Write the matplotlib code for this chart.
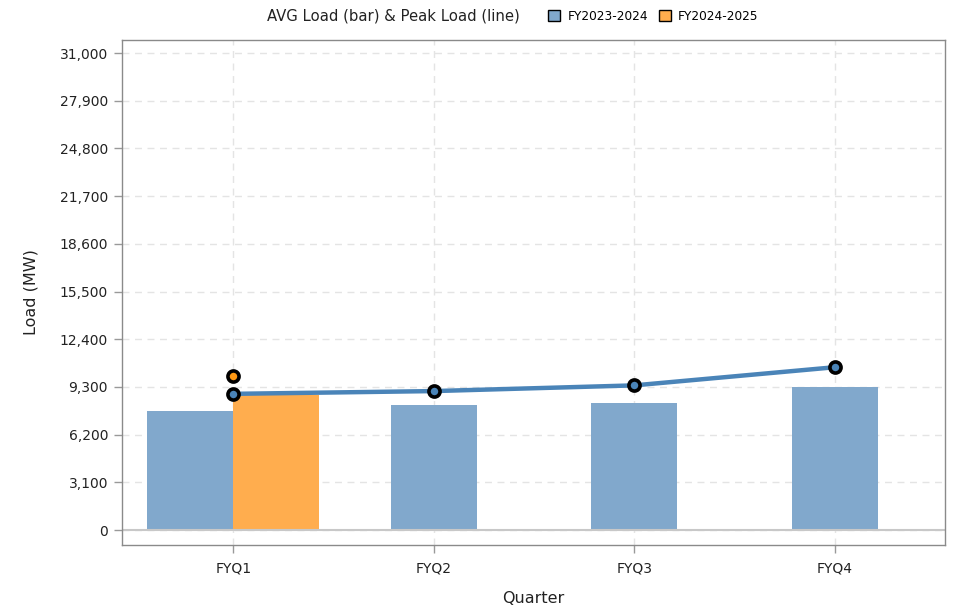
import matplotlib
matplotlib.use("Agg")
import matplotlib.pyplot as plt
import numpy as np
from matplotlib.patches import Patch
from matplotlib.ticker import FuncFormatter

quarters = ["FYQ1", "FYQ2", "FYQ3", "FYQ4"]
avg_fy23 = [7750, 8150, 8280, 9300]
avg_fy24 = [8800]
peak_fy23 = [8850, 9030, 9400, 10580]
peak_fy24 = [10030]
yticks = [0, 3100, 6200, 9300, 12400, 15500, 18600, 21700, 24800, 27900, 31000]

blue_bar = "#81A8CC"
orange_bar = "#FFAD4E"
line_blue = "#4A84B8"
marker_blue = "#4A84B8"
marker_orange = "#FF9914"

fig = plt.figure(figsize=(9.56, 6.13), dpi=100)
ax = fig.add_axes([122 / 956, 1 - 545 / 613, (945 - 122) / 956, (545 - 40) / 613])

x = np.arange(len(quarters))
w = 0.43
# FYQ1 has both years side by side, other quarters only FY2023-2024
bar_x = x.astype(float).copy()
bar_x[: len(avg_fy24)] -= w / 2
ax.bar(bar_x, avg_fy23, width=w, color=blue_bar, zorder=2)
ax.bar(x[: len(avg_fy24)] + w / 2, avg_fy24, width=w, color=orange_bar, zorder=2)

ax.plot(x, peak_fy23, color=line_blue, lw=3.2, zorder=3)
ax.plot(x, peak_fy23, ls="none", marker="o", ms=8, mfc=marker_blue, mec="black",
        mew=2.6, zorder=4)
ax.plot(x[: len(peak_fy24)], peak_fy24, ls="none", marker="o", ms=8, mfc=marker_orange,
        mec="black", mew=2.6, zorder=4)

ax.axhline(0, color="#C8C8C8", lw=1.5, zorder=2.5)

ax.set_xlim(-0.555, 3.55)
ax.set_ylim(-975, 31850)
ax.set_xticks(x)
ax.set_xticklabels(quarters)
ax.set_yticks(yticks)
ax.yaxis.set_major_formatter(FuncFormatter(lambda v, p: f"{int(v):,}"))
ax.tick_params(axis="both", labelsize=10, colors="#222222", length=6, width=1,
               color="#999999")
ax.tick_params(axis="x", pad=6)
ax.tick_params(axis="y", pad=4)
ax.grid(True, ls=(0, (5, 4)), color="#E4E4E4", lw=1, zorder=0)
for s in ax.spines.values():
    s.set_color("#8A8A8A")
    s.set_linewidth(1)

ax.set_xlabel("Quarter", fontsize=11.5, color="#222222", labelpad=11)
ax.set_ylabel("Load (MW)", fontsize=11.5, color="#222222", labelpad=15)

fig.text(267 / 956, 1 - 16 / 613, "AVG Load (bar) & Peak Load (line)", fontsize=10.7,
         va="center", ha="left", color="#222222")
handles = [
    Patch(facecolor=blue_bar, edgecolor="black", lw=1, label="FY2023-2024"),
    Patch(facecolor=orange_bar, edgecolor="black", lw=1, label="FY2024-2025"),
]
fig.legend(handles=handles, loc="center left", bbox_to_anchor=(548 / 956, 1 - 16 / 613),
           ncol=2, frameon=False, fontsize=8.7, handlelength=1.0, handleheight=1.0,
           handletextpad=0.6, columnspacing=0.9, borderaxespad=0, borderpad=0)

fig.savefig("out.png", dpi=100)
